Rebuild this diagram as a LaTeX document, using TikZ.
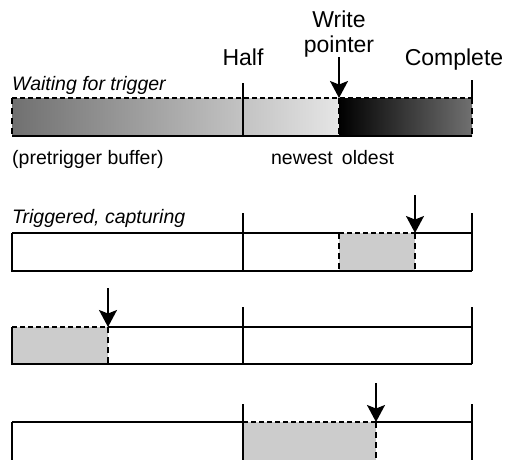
\documentclass[tikz,border=0pt]{standalone}
\usepackage{fontspec}
\setmainfont{Liberation Sans}
\usetikzlibrary{arrows.meta}
\begin{document}
\begin{tikzpicture}[x=1pt, y=-1pt, label/.style={font=\fontsize{23}{25}\selectfont, inner sep=0pt, align=center}, state/.style={font=\fontsize{19.5}{22}\selectfont\itshape, inner sep=0pt}, note/.style={font=\fontsize{19.5}{22}\selectfont, inner sep=0pt}, edge/.style={line width=2.4pt}, thinline/.style={line width=1.3pt}, marker/.style={line width=1.5pt}, cut/.style={line width=2.2pt, dash pattern=on 6pt off 4pt}, topcut/.style={line width=1.3pt, dash pattern=on 5pt off 3pt}, captured/.style={fill=black!20}, pointer arrow/.style={line width=1.6pt, -{Stealth[length=17pt, width=18pt, inset=3.5pt]}}]
		\useasboundingbox (0,0) rectangle (520,459);
		\clip (0,0) rectangle (520,459);
		% waiting for trigger
		\node[label, anchor=base] (half) at (243,65) {Half};
		\node[label, anchor=base] (complete) at (454,65) {Complete};
		\node[label, anchor=south] (write) at (339,57) {Write\\pointer};
		\node[state, anchor=base west] (waiting) at (12,90) {Waiting for trigger};
		\node[note, anchor=base west] (pre) at (12,164) {(pretrigger buffer)};
		\node[note, anchor=base] (newest) at (302,164) {newest};
		\node[note, anchor=base] (oldest) at (368,164) {oldest};
		\coordinate (p1) at (339,98);
		\shade[left color=black!56, right color=black!10] (12,98) rectangle (339,136);
		\shade[left color=black, right color=black!56] (339,98) rectangle (472,136);
		\draw[topcut] (12,98) -- (472,98);
		\draw[edge] (12,136) -- (472,136);
		\draw[cut] (12,98) -- (12,136);
		\draw[cut] (472,98) -- (472,136);
		\draw[cut] (p1) -- (339,136);
		\draw[marker] (243,83) -- (243,136);
		\draw[thinline] (472,80) -- (472,98);
		\draw[pointer arrow] (write.south) -- (p1);
		% triggered, capturing
		\node[state, anchor=base west] (triggered) at (12,223) {Triggered, capturing};
		\coordinate (a2) at (415,195);
		\coordinate (p2) at (415,233);
		\fill[captured] (339,233) rectangle (415,271);
		\draw[thinline] (12,233) -- (339,233) (415,233) -- (472,233);
		\draw[topcut] (339,233) -- (p2);
		\draw[edge] (12,233) -- (12,271) -- (472,271);
		\draw[marker] (243,213) -- (243,271);
		\draw[thinline] (472,213) -- (472,271);
		\draw[cut] (339,233) -- (339,271);
		\draw[cut] (p2) -- (415,271);
		\draw[pointer arrow] (a2) -- (p2);
		% wrapped round
		\coordinate (a3) at (108,288);
		\coordinate (p3) at (108,327);
		\fill[captured] (12,327) rectangle (108,364);
		\draw[topcut] (12,327) -- (p3);
		\draw[thinline] (p3) -- (472,327);
		\draw[edge] (12,327) -- (12,364) -- (472,364);
		\draw[marker] (243,307) -- (243,364);
		\draw[thinline] (472,307) -- (472,364);
		\draw[cut] (p3) -- (108,364);
		\draw[pointer arrow] (a3) -- (p3);
		% second half
		\coordinate (a4) at (376,383);
		\coordinate (p4) at (376,422);
		\fill[captured] (243,422) rectangle (376,470);
		\draw[thinline] (12,422) -- (243,422) (p4) -- (472,422);
		\draw[topcut] (243,422) -- (p4);
		\draw[edge] (12,422) -- (12,470);
		\draw[marker] (243,404) -- (243,470);
		\draw[thinline] (472,404) -- (472,470);
		\draw[cut] (p4) -- (376,470);
		\draw[pointer arrow] (a4) -- (p4);
	\end{tikzpicture}
\end{document}
